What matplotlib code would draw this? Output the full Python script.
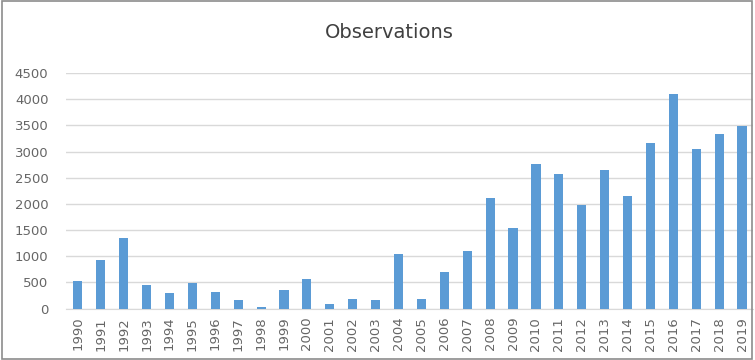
import numpy as np
import matplotlib.pyplot as plt
from matplotlib.patches import Rectangle

years = [str(y) for y in range(1990, 2020)]
observations = [530, 920, 1350, 445, 305, 490, 310, 170, 20, 345,
                560, 80, 190, 160, 1035, 190, 700, 1100, 2115, 1530,
                2760, 2580, 1975, 2655, 2150, 3165, 4100, 3050, 3345, 3490]
y_ticks = [0, 500, 1000, 1500, 2000, 2500, 3000, 3500, 4000, 4500]

text_color = "#666666"
bar_color = "#5B9BD5"
grid_color = "#D9D9D9"

fig = plt.figure(figsize=(7.55, 3.6), dpi=100)
ax = fig.add_axes([0.088, 0.143, 0.910, 0.654])

x = np.arange(len(years))
ax.bar(x, observations, width=0.4, color=bar_color, zorder=3)

ax.set_xlim(-0.5, len(years) - 0.5)
ax.set_ylim(0, 4500)
ax.set_yticks(y_ticks)
ax.set_yticklabels([str(t) for t in y_ticks], fontsize=9.5, color=text_color)
ax.set_xticks(x)
ax.set_xticklabels(years, rotation=90, fontsize=9.5, color=text_color)
ax.tick_params(axis="x", length=0, pad=6)
ax.tick_params(axis="y", length=0, pad=13)

ax.grid(axis="y", color=grid_color, linewidth=1, zorder=0)
for side in ["top", "right", "left"]:
    ax.spines[side].set_visible(False)
ax.spines["bottom"].set_color(grid_color)

fig.text(0.515, 0.91, "Observations", ha="center", va="center",
         fontsize=14, color="#404040")

# outer chart frame
fig.patches.append(Rectangle((0.002, 0.004), 0.994, 0.993, transform=fig.transFigure,
                             fill=False, edgecolor="#8C8C8C", linewidth=1.2))

fig.savefig("out.png", dpi=100)
